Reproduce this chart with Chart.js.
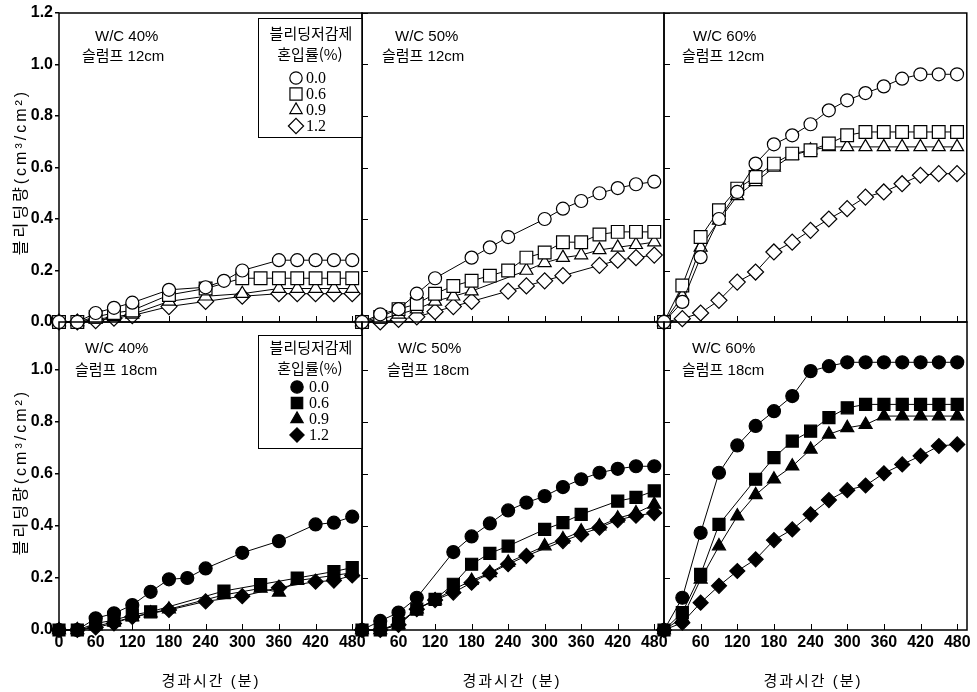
<!DOCTYPE html>
<html lang="ko">
<head>
<meta charset="UTF-8">
<title>블리딩량 경시변화</title>
<script src="https://cdn.jsdelivr.net/npm/chart.js"></script>
<style>
  body { margin: 0; background: #fff; }
  #wrap {
    position: relative; width: 977px; height: 692px; overflow: hidden;
    font-family: "Liberation Sans", Arial, "Noto Sans CJK KR", sans-serif; color: #000;
  }
  #wrap canvas { position: absolute; left: 0; top: 0; }
  .note { position: absolute; font-size: 15px; line-height: 18px; white-space: nowrap; }
  .ytitle {
    position: absolute; font-size: 16px; letter-spacing: 3px; white-space: nowrap;
    transform: translate(-50%, -50%) rotate(-90deg);
  }
  .xtitle {
    position: absolute; font-size: 15px; letter-spacing: 2px; white-space: nowrap;
    transform: translate(-50%, -50%);
  }
</style>
</head>
<body>
<div id="wrap"></div>
<script>
// elapsed time (min), every 30 min
const times = [0, 30, 60, 90, 120, 150, 180, 210, 240, 270, 300, 330, 360, 390, 420, 450, 480];
const xTicks = [0, 60, 120, 180, 240, 300, 360, 420, 480];
const yTicksTop = [0, 0.2, 0.4, 0.6, 0.8, 1.0, 1.2];
const yTicksBottom = [0, 0.2, 0.4, 0.6, 0.8, 1.0];
const doses = ['0.0', '0.6', '0.9', '1.2'];
const legendTitle = ['블리딩저감제', '혼입률(%)'];
const wcLabels = ['W/C 40%', 'W/C 50%', 'W/C 60%'];
const slumpLabels = ['슬럼프 12cm', '슬럼프 18cm'];
const yTitle = '블리딩량(cm³/cm²)';
const xTitle = '경과시간 (분)';

// bleeding (cm3/cm2) per dose: 0.0, 0.6, 0.9, 1.2 -- null = no marker at that time
const wc40s12 = [
  [0, 0, 0.035, 0.055, 0.075, null, 0.125, null, 0.135, 0.16, 0.20, null, 0.24, 0.24, 0.24, 0.24, 0.24],
  [0, 0, 0.02, 0.035, 0.045, null, 0.105, null, 0.13, null, 0.17, 0.17, 0.17, 0.17, 0.17, 0.17, 0.17],
  [0, 0, 0.01, 0.02, 0.03, null, 0.08, null, 0.10, null, 0.11, null, 0.13, 0.13, 0.13, 0.13, 0.13],
  [0, 0, 0.005, 0.015, 0.025, null, 0.06, null, 0.08, null, 0.10, null, 0.11, 0.11, 0.11, 0.11, 0.11]
];
const wc50s12 = [
  [0, 0.03, 0.05, 0.11, 0.17, null, 0.25, 0.29, 0.33, null, 0.40, 0.44, 0.47, 0.50, 0.52, 0.535, 0.545],
  [0, 0.02, 0.05, 0.07, 0.11, 0.14, 0.16, 0.18, 0.20, 0.25, 0.27, 0.31, 0.31, 0.34, 0.35, 0.35, 0.35],
  [0, 0.01, 0.03, 0.05, 0.08, 0.10, 0.12, null, null, 0.20, 0.23, 0.25, 0.26, 0.28, 0.29, 0.30, 0.31],
  [0, 0, 0.01, 0.02, 0.04, 0.06, 0.08, null, 0.12, 0.14, 0.16, 0.18, null, 0.22, 0.24, 0.25, 0.26]
];
const wc60s12 = [
  [0, 0.078, 0.252, 0.40, 0.505, 0.615, 0.69, 0.725, 0.768, 0.822, 0.861, 0.889, 0.915, 0.945, 0.962, 0.962, 0.962],
  [0, 0.142, 0.33, 0.434, 0.518, 0.563, 0.615, 0.654, 0.667, 0.693, 0.725, 0.738, 0.738, 0.738, 0.738, 0.738, 0.738],
  [0, 0.10, 0.29, 0.395, 0.49, 0.544, 0.60, 0.647, 0.667, 0.68, 0.68, 0.68, 0.68, 0.68, 0.68, 0.68, 0.68],
  [0, 0.013, 0.035, 0.084, 0.155, 0.194, 0.272, 0.31, 0.356, 0.40, 0.44, 0.485, 0.505, 0.537, 0.57, 0.576, 0.576]
];
const wc40s18 = [
  [0, 0, 0.045, 0.064, 0.096, 0.147, 0.195, 0.20, 0.237, null, 0.297, null, 0.342, null, 0.406, 0.413, 0.436],
  [0, 0, 0.025, 0.038, 0.058, 0.07, null, null, null, 0.15, null, 0.175, null, 0.20, null, 0.225, 0.24],
  [0, 0, 0.015, 0.03, 0.05, 0.065, 0.08, null, null, 0.135, null, 0.16, 0.145, 0.19, null, 0.21, 0.22],
  [0, 0, 0.01, 0.025, 0.05, null, 0.077, null, 0.11, null, 0.13, null, 0.163, null, 0.186, 0.19, 0.21]
];
const wc50s18 = [
  [0, 0.035, 0.067, 0.124, null, 0.30, 0.36, 0.41, 0.46, 0.49, 0.515, 0.55, 0.58, 0.605, 0.62, 0.63, 0.63],
  [0, 0, 0.026, 0.08, 0.118, 0.176, 0.253, 0.295, 0.323, null, 0.387, 0.413, 0.445, null, 0.496, 0.51, 0.535],
  [0, 0, 0.02, 0.08, 0.115, 0.156, 0.19, 0.22, 0.26, null, 0.323, 0.35, 0.38, 0.40, 0.43, 0.45, 0.483],
  [0, 0, 0.02, 0.08, 0.115, 0.144, 0.182, 0.218, 0.253, 0.285, null, 0.342, 0.368, 0.394, 0.423, 0.44, 0.45]
];
const wc60s18 = [
  [0, 0.124, 0.374, 0.605, 0.71, 0.785, 0.842, 0.90, 0.996, 1.015, 1.03, 1.03, 1.03, 1.03, 1.03, 1.03, 1.03],
  [0, 0.067, 0.214, 0.406, null, 0.58, 0.663, 0.727, 0.765, 0.817, 0.855, 0.868, 0.868, 0.868, 0.868, 0.868, 0.868],
  [0, 0.047, 0.195, 0.323, 0.438, 0.52, 0.58, 0.63, 0.695, 0.753, 0.778, 0.79, 0.823, 0.823, 0.823, 0.823, 0.823],
  [0, 0.028, 0.105, 0.17, 0.227, 0.272, 0.346, 0.387, 0.445, 0.50, 0.538, 0.556, 0.603, 0.637, 0.67, 0.708, 0.714]
];

// panel grid geometry (page pixels)
const W = 977, H = 692;
const colL = [59, 362, 664], colR = [362, 664, 967];
const rowT = [13, 322], rowB = [322, 630];
const yMax = [1.2, 1.185];
const X_MAX = 496;
const Y_AXIS_W = 59, X_AXIS_H = 62;

const shapes = ['circle', 'rect', 'triangle', 'rectRot'];
const radiiOpen = [6.5, 9, 7.5, 8];
const radiiFilled = [6.5, 8.5, 7.5, 7.5];

const tickFont = { family: '"Liberation Sans", Arial, sans-serif', size: 16, weight: 'bold' };
const wrap = document.getElementById('wrap');

// box, inner tick marks and legend
const framePlugin = {
  id: 'frame',
  beforeDatasetsDraw(chart, args, opts) {
    const { ctx, chartArea: a, scales } = chart;
    ctx.save();
    ctx.strokeStyle = '#000';
    ctx.lineWidth = 1.5;
    ctx.strokeRect(a.left, a.top, a.right - a.left, a.bottom - a.top);
    ctx.lineWidth = 1;
    ctx.beginPath();
    xTicks.forEach(v => {
      if (v === 0) return;
      const px = Math.round(scales.x.getPixelForValue(v)) + 0.5;
      ctx.moveTo(px, a.bottom);
      ctx.lineTo(px, a.bottom - 6);
    });
    if (opts.innerY) {
      opts.yTicks.forEach(v => {
        if (v === 0) return;
        const py = Math.round(scales.y.getPixelForValue(v)) + 0.5;
        ctx.moveTo(a.left, py);
        ctx.lineTo(a.left + 6, py);
      });
    }
    ctx.stroke();
    ctx.restore();
  },
  afterDatasetsDraw(chart, args, opts) {
    if (!opts.legend) return;
    const { ctx, chartArea: a } = chart;
    const bx = 258, by = a.top + opts.legend.top, bw = a.right - bx, bh = opts.legend.height;
    ctx.save();
    ctx.fillStyle = '#fff';
    ctx.fillRect(bx, by, bw, bh);
    ctx.strokeStyle = '#000';
    ctx.lineWidth = 1;
    ctx.strokeRect(bx + 0.5, by + 0.5, bw, bh);
    ctx.fillStyle = '#000';
    ctx.textAlign = 'center';
    ctx.textBaseline = 'middle';
    ctx.font = '15px "Noto Sans CJK KR", sans-serif';
    ctx.fillText(legendTitle[0], bx + bw / 2 + 1, a.top + opts.legend.t1);
    ctx.fillText(legendTitle[1], bx + bw / 2, a.top + opts.legend.t2);
    ctx.textAlign = 'left';
    ctx.font = '16px "Liberation Serif", serif';
    chart.data.datasets.forEach((ds, i) => {
      const y = a.top + opts.legend.rows[i];
      ctx.fillStyle = ds.pointBackgroundColor;
      ctx.strokeStyle = '#000';
      ctx.lineWidth = 1.2;
      Chart.helpers.drawPoint(ctx, { pointStyle: ds.pointStyle, radius: ds.pointRadius * 0.95, borderWidth: 1.2, rotation: 0 }, opts.legend.mx, y);
      ctx.fillStyle = '#000';
      ctx.fillText(ds.label, opts.legend.tx, y + 1);
    });
    ctx.restore();
  }
};

function makePanel(r, c, series) {
  const canvas = document.createElement('canvas');
  canvas.width = W; canvas.height = H;
  wrap.appendChild(canvas);
  const filled = r === 1;
  const showX = r === 1, showY = c === 0;
  const datasets = series.map((vals, i) => ({
    label: doses[i],
    data: times.map((t, k) => ({ x: t, y: vals[k] })).filter(p => p.y !== null),
    borderColor: '#000',
    borderWidth: 1,
    pointStyle: shapes[i],
    pointRadius: (filled ? radiiFilled : radiiOpen)[i],
    pointBackgroundColor: filled ? '#000' : '#fff',
    pointBorderColor: '#000',
    pointBorderWidth: 1.2,
    tension: 0,
    clip: false
  }));
  const yTicks = r === 0 ? yTicksTop : yTicksBottom;
  const legend = c === 0 ? (r === 0
    ? { top: 5, height: 119, t1: 20, t2: 41, rows: [65, 81, 97, 113], mx: 296, tx: 306 }
    : { top: 13, height: 113, t1: 25, t2: 46, rows: [65, 81, 97, 113], mx: 297, tx: 309 }) : null;

  new Chart(canvas.getContext('2d'), {
    type: 'line',
    data: { datasets },
    options: {
      responsive: false,
      animation: false,
      devicePixelRatio: 1,
      events: [],
      layout: {
        padding: {
          left: colL[c] - (showY ? Y_AXIS_W : 0),
          right: W - colR[c],
          top: rowT[r],
          bottom: H - rowB[r] - (showX ? X_AXIS_H : 0)
        }
      },
      plugins: {
        legend: { display: false },
        tooltip: { enabled: false },
        frame: { innerY: c > 0, yTicks, legend }
      },
      scales: {
        x: {
          type: 'linear', min: 0, max: X_MAX, display: showX,
          afterBuildTicks: s => { s.ticks = xTicks.map(v => ({ value: v })); },
          afterFit: s => { s.height = showX ? X_AXIS_H : 0; s.paddingLeft = 0; s.paddingRight = 0; },
          grid: { display: false, drawTicks: false },
          border: { display: false },
          ticks: {
            padding: 3, color: '#000', font: tickFont, maxRotation: 0, autoSkip: false,
            callback: v => (v === 0 && c > 0) ? '' : String(v)
          }
        },
        y: {
          type: 'linear', min: 0, max: yMax[r], display: showY,
          afterBuildTicks: s => { s.ticks = yTicks.map(v => ({ value: v })); },
          afterFit: s => { s.width = showY ? Y_AXIS_W : 0; s.paddingTop = 0; s.paddingBottom = 0; },
          grid: { drawOnChartArea: false, drawTicks: true, tickLength: 4, color: '#000', lineWidth: 1.5 },
          border: { display: false },
          ticks: { padding: 2, color: '#000', font: tickFont, callback: v => v.toFixed(1) }
        }
      }
    },
    plugins: [framePlugin]
  });
}

const panels = [[wc40s12, wc50s12, wc60s12], [wc40s18, wc50s18, wc60s18]];
panels.forEach((row, r) => row.forEach((series, c) => makePanel(r, c, series)));

// text notes inside panels
function addText(cls, text, left, top) {
  const d = document.createElement('div');
  d.className = cls;
  d.textContent = text;
  d.style.left = left + 'px';
  d.style.top = top + 'px';
  wrap.appendChild(d);
}
const wcLeft = [[95, 395, 693], [85, 398, 692]];
const slumpLeft = [[82, 382, 682], [75, 387, 682]];
const wcY = [36, 348], slumpY = [56, 370];
for (let r = 0; r < 2; r++) {
  for (let c = 0; c < 3; c++) {
    addText('note', wcLabels[c], wcLeft[r][c], wcY[r] - 9);
    addText('note', slumpLabels[r], slumpLeft[r][c], slumpY[r] - 9);
  }
}
addText('ytitle', yTitle, 19, 172);
addText('ytitle', yTitle, 19, 472);
[211, 512, 813].forEach(x => addText('xtitle', xTitle, x, 679));
</script>
</body>
</html>
